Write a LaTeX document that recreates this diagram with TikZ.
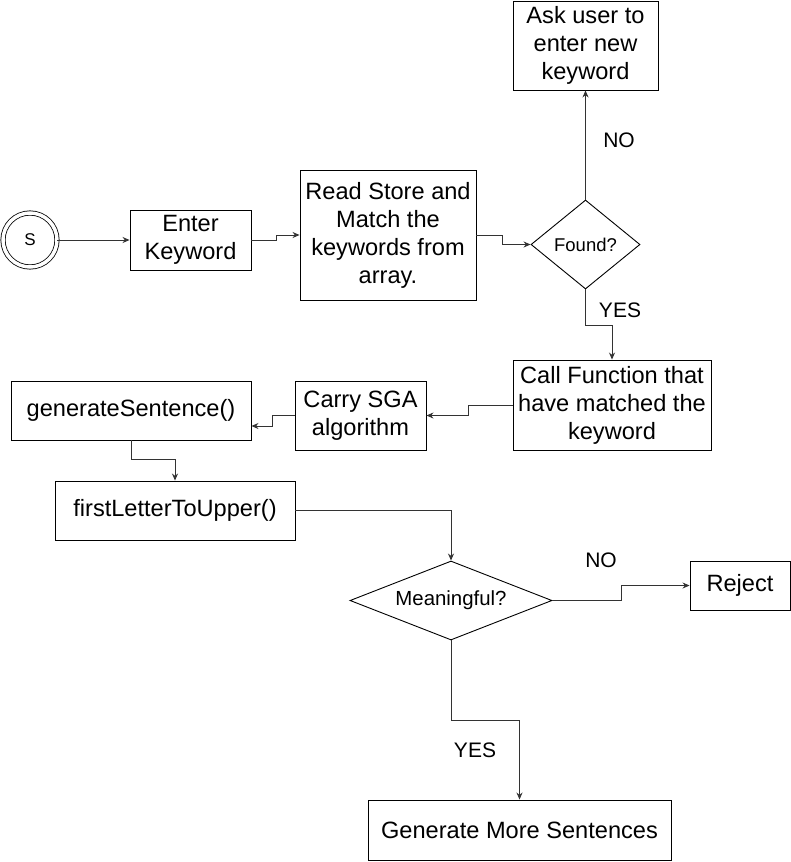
\documentclass[tikz,border=0pt]{standalone}
\usepackage{fontspec}
\setmainfont{Liberation Sans}
\usepackage{tikz}
\usetikzlibrary{shapes.geometric}
\usetikzlibrary{arrows.meta}

\begin{document}
\begin{tikzpicture}[x=1pt,y=-1pt,
  box/.style={draw, line width=0.9pt, inner sep=0pt, align=center,
    font=\fontsize{23.6}{28}\selectfont},
  decision/.style={draw, diamond, line width=0.9pt, inner sep=0pt},
  line/.style={draw=black!80, line width=0.9pt, -{Stealth[length=7pt,width=6pt]}},
  lbl/.style={font=\fontsize{21}{25}\selectfont}]
\useasboundingbox (0,0) rectangle (791,862);

\node [circle, draw, double, double distance=3.5pt, line width=0.8pt, minimum size=54pt, inner sep=0pt, font=\fontsize{17}{20}\selectfont] (start) at (30,240) {S};
\node [box, minimum width=121pt, minimum height=60pt] (enter) at (190.5,240) {Enter\\Keyword};
\node [box, minimum width=176pt, minimum height=130pt] (read) at (388,235) {Read Store and\\Match the\\keywords from\\array.};
\node [decision, aspect=1.22, minimum width=109pt, minimum height=89pt, font=\fontsize{18.5}{22}\selectfont] (found) at (585.5,244.5) {Found?};
\node [box, minimum width=145pt, minimum height=89pt] (ask) at (585.5,45.5) {Ask user to\\enter new\\keyword};
\node [box, minimum width=198pt, minimum height=90pt] (call) at (612,405) {Call Function that\\have matched the\\keyword};
\node [box, minimum width=131pt, minimum height=69pt] (carry) at (360.5,415.5) {Carry SGA\\algorithm};
\node [box, minimum width=240pt, minimum height=59pt] (gen) at (131,410.5) {generateSentence()};
\node [box, minimum width=240pt, minimum height=59pt] (first) at (175,510.5) {firstLetterToUpper()};
\node [decision, aspect=2.56, minimum width=202pt, minimum height=79pt, font=\fontsize{20.4}{24}\selectfont] (mean) at (451,600.5) {Meaningful?};
\node [box, minimum width=100pt, minimum height=49pt] (reject) at (740,585.5) {Reject};
\node [box, minimum width=303pt, minimum height=60pt] (more) at (519.5,830) {Generate More Sentences};

\node [lbl] (no1) at (619,140) {NO};
\node [lbl] (yes1) at (620,310) {YES};
\node [lbl] (no2) at (601,560) {NO};
\node [lbl] (yes2) at (475,750) {YES};

\draw [line] (start) -- (enter);
\draw [line] (enter.east) -- ++(25,0) |- (read.west);
\draw [line] (read.east) -- ++(26,0) |- (found.west);
\draw [line] (found.north) -- (ask.south);
\draw [line] (found.south) -- ++(0,36) -| (call.north);
\draw [line] (call.west) -- ++(-44,0) |- (carry.east);
\draw [line] (carry.west) -- ++(-22,0) |- ([yshift=-15.5pt]gen.east);
\draw [line] (gen.south) -- ++(0,19) -| (first.north);
\draw [line] (first.east) -| (mean.north);
\draw [line] (mean.east) -- ++(69,0) |- (reject.west);
\draw [line] (mean.south) -- ++(0,80) -| (more.north);
\end{tikzpicture}
\end{document}
